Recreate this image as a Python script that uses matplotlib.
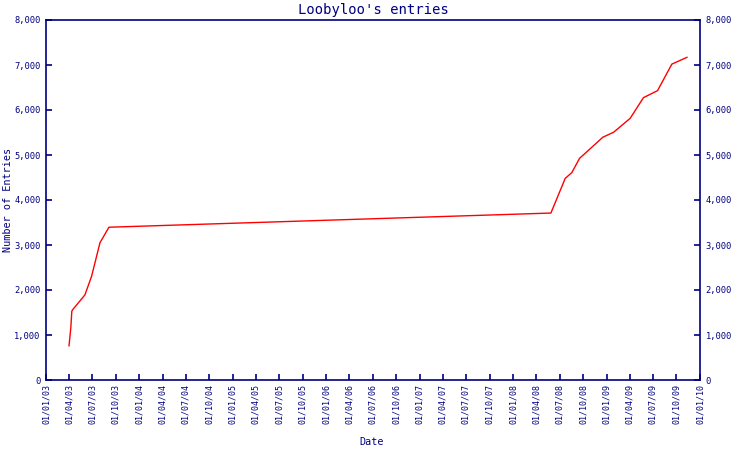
import pandas as pd
import matplotlib
matplotlib.use('Agg')
import matplotlib.pyplot as plt
import matplotlib.dates as mdates
from matplotlib.ticker import FuncFormatter

# entries over time
dates = ['2003-04-01', '2003-04-08', '2003-04-12', '2003-04-15', '2003-06-02',
         '2003-06-28', '2003-07-31', '2003-09-04', '2008-05-28', '2008-07-23',
         '2008-08-18', '2008-09-17', '2008-11-24', '2008-12-17', '2009-01-28',
         '2009-02-16', '2009-04-03', '2009-05-25', '2009-07-19', '2009-09-13',
         '2009-11-11']
entries = [760, 1160, 1530, 1560, 1890, 2300, 3050, 3395, 3710, 4480,
           4610, 4925, 5275, 5395, 5505, 5595, 5815, 6275, 6430, 7020, 7170]

tick_dates = pd.date_range('2003-01-01', '2010-01-01', freq='QS')

navy = '#000080'
plt.rcParams['font.family'] = ['DejaVu Sans Mono']

fig = plt.figure(figsize=(7.5, 4.5), dpi=100)
ax = fig.add_axes([46 / 750, 70 / 450, 654 / 750, 360 / 450])

ax.plot(pd.to_datetime(dates), entries, color='red', linewidth=1)

ax.set_xlim(pd.Timestamp('2003-01-01'), pd.Timestamp('2010-01-01'))
ax.set_ylim(0, 8000)
ax.set_yticks(range(0, 8001, 1000))
ax.yaxis.set_major_formatter(FuncFormatter(lambda v, p: f'{int(v):,}'))
ax.set_xticks(tick_dates)
ax.xaxis.set_major_formatter(mdates.DateFormatter('%d/%m/%y'))

for s in ax.spines.values():
    s.set_color(navy)
    s.set_linewidth(1.2)

ax.tick_params(axis='y', which='both', direction='in', length=4, color=navy,
               labelcolor=navy, labelsize=6.3, left=True, right=True,
               labelleft=True, labelright=True, width=1.2, pad=4)
ax.tick_params(axis='x', direction='in', length=4, color=navy, labelcolor=navy,
               labelsize=6, rotation=90, width=1.2, pad=3)

ax.set_title("Loobyloo's entries", color=navy, fontsize=10, pad=4)
fig.text(8 / 750, 1 - 200 / 450, 'Number of Entries', color=navy, fontsize=7.3,
         rotation=90, ha='center', va='center')
fig.text(372 / 750, 1 - 442 / 450, 'Date', color=navy, fontsize=7.3,
         ha='center', va='center')

fig.savefig('out.png', dpi=100)
